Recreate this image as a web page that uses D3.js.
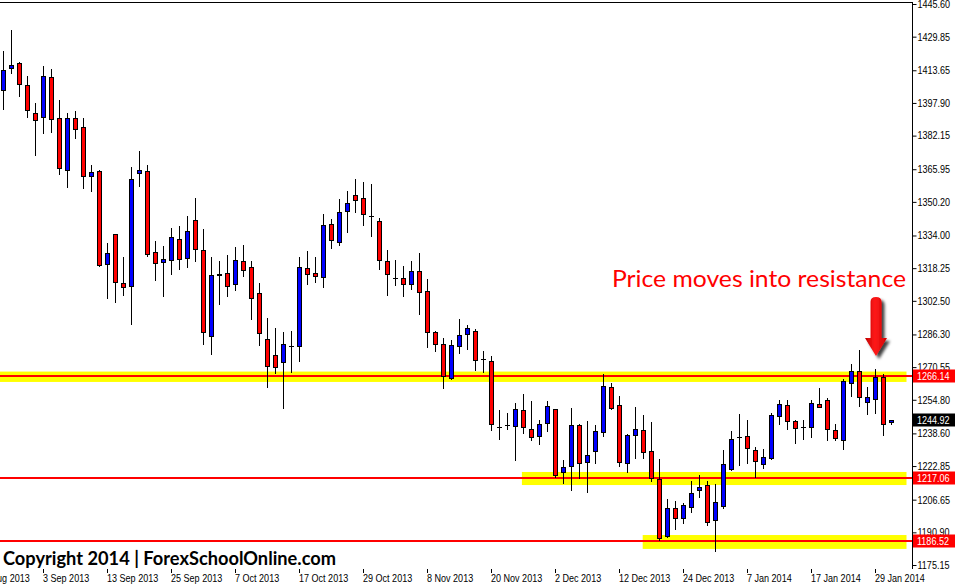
<!DOCTYPE html>
<html><head><meta charset="utf-8">
<script src="https://cdn.jsdelivr.net/npm/d3@7"></script>
<style>body{margin:0;background:#fff;overflow:hidden}svg{display:block}</style>
</head><body>
<svg id="chart" width="955" height="586"></svg>
<script>
// ---- data (daily candles, index 0 = 27 Aug 2013 ... 111 = 31 Jan 2014) ----
const opens = [1404.00,1414.89,1417.16,1406.55,1392.91,1390.98,1410.26,1390.50,1365.43,1390.50,
1386.16,1362.83,1364.95,1320.11,1334.58,1310.95,1309.51,1363.98,1364.95,1325.90,
1321.08,1322.33,1332.17,1323.01,1341.33,1326.86,1285.69,1315.29,1315.77,1310.76,
1321.56,1318.67,1306.13,1283.96,1276.24,1272.87,1280.58,1280.87,1318.18,1315.77,
1314.14,1339.40,1331.01,1345.95,1353.38,1351.93,1343.54,1340.84,1321.56,1313.36,
1313.36,1310.47,1316.74,1307.10,1287.33,1281.55,1265.15,1280.49,1286.37,1287.81,
1274.46,1273.35,1241.53,1242.50,1242.02,1249.73,1240.57,1237.19,1243.46,1250.21,
1219.84,1222.73,1242.50,1224.95,1229.96,1239.12,1260.82,1252.14,1224.18,1237.68,
1240.09,1229.96,1216.46,1188.99,1202.48,1197.66,1202.96,1211.16,1213.57,1196.70,
1203.45,1221.29,1236.86,1237.19,1230.45,1223.84,1226.88,1246.84,1252.14,1244.43,
1241.53,1241.53,1252.62,1254.55,1240.09,1235.27,1262.75,1268.53,1253.59,1255.03,
1265.64,1243.94];
const highs = [1422.94,1433.07,1417.78,1410.89,1397.87,1415.71,1414.27,1399.32,1392.91,1394.02,
1390.64,1367.99,1365.43,1330.38,1334.80,1323.63,1367.02,1374.59,1367.99,1331.25,
1328.94,1337.61,1338.58,1343.40,1352.08,1337.13,1323.63,1321.70,1324.60,1328.45,
1329.42,1321.70,1311.10,1294.23,1289.40,1287.48,1287.96,1323.63,1326.53,1323.49,
1344.36,1341.95,1351.59,1355.31,1361.24,1359.64,1358.83,1342.29,1327.01,1322.19,
1319.15,1321.70,1325.56,1312.88,1287.81,1284.44,1283.47,1293.74,1290.85,1288.92,
1278.32,1275.91,1249.87,1248.43,1253.25,1257.59,1254.21,1244.91,1254.21,1250.36,
1225.62,1250.84,1242.98,1244.57,1242.50,1266.99,1262.75,1256.48,1238.16,1251.18,
1247.32,1243.94,1226.11,1206.82,1205.86,1204.89,1215.50,1218.39,1215.50,1214.05,
1230.45,1239.75,1247.94,1244.91,1231.89,1231.07,1248.28,1254.55,1254.55,1244.91,
1244.91,1254.55,1260.33,1255.51,1242.98,1264.67,1272.05,1278.65,1260.82,1269.49,
1267.08,1244.92];
const lows = [1394.84,1412.48,1401.39,1391.27,1372.95,1383.56,1384.04,1363.79,1357.52,1381.15,
1357.04,1355.60,1319.30,1304.01,1302.08,1305.46,1291.19,1358.01,1323.97,1312.69,
1304.98,1315.58,1317.99,1318.96,1321.85,1281.84,1277.01,1301.12,1304.98,1307.87,
1314.62,1293.89,1281.35,1261.11,1267.85,1250.98,1268.34,1273.64,1310.76,1311.73,
1309.32,1328.12,1329.56,1335.83,1345.47,1339.20,1333.90,1317.99,1305.46,1310.28,
1304.98,1308.35,1296.30,1280.39,1278.46,1260.62,1264.82,1277.50,1279.28,1269.16,
1268.19,1240.23,1236.04,1240.57,1225.91,1238.93,1235.55,1233.63,1239.90,1217.43,
1214.53,1211.16,1216.95,1210.49,1224.47,1237.19,1250.36,1222.88,1219.84,1226.88,
1226.88,1215.50,1187.06,1188.50,1192.36,1195.54,1200.55,1208.08,1194.29,1181.75,
1202.77,1220.80,1223.50,1224.18,1217.72,1221.91,1226.40,1242.98,1240.57,1233.82,
1235.75,1237.00,1251.08,1235.27,1235.27,1230.93,1256.48,1251.66,1247.80,1248.28,
1237.68,1242.98];
const closes = [1413.64,1416.05,1406.89,1394.36,1389.53,1410.75,1390.02,1366.39,1390.50,1385.20,
1362.54,1364.47,1319.63,1325.42,1311.44,1309.02,1361.09,1365.43,1324.93,1320.98,
1322.52,1333.13,1322.52,1336.02,1327.34,1287.33,1314.81,1315.19,1309.80,1322.04,
1317.22,1304.01,1286.85,1271.23,1270.75,1281.55,1280.68,1318.67,1315.29,1314.33,
1338.91,1331.97,1345.18,1349.52,1350.97,1344.22,1343.44,1322.04,1315.29,1313.46,
1310.47,1316.74,1306.62,1287.62,1281.55,1266.41,1281.06,1285.88,1289.26,1273.83,
1274.36,1243.27,1241.63,1242.60,1250.21,1241.53,1236.71,1242.98,1251.66,1218.39,
1222.25,1242.50,1224.18,1228.03,1239.60,1261.30,1250.70,1224.66,1237.68,1240.57,
1229.48,1216.95,1188.02,1202.48,1197.66,1203.93,1209.71,1212.61,1195.73,1205.38,
1223.70,1235.75,1236.76,1231.41,1225.14,1227.07,1247.32,1252.62,1244.43,1241.05,
1241.63,1253.10,1251.18,1240.57,1236.23,1263.71,1268.53,1256.00,1256.00,1265.93,
1242.98,1244.92];

const yTicks = [1445.60,1429.85,1413.65,1397.90,1382.15,1365.95,1350.20,1334.00,1318.25,
1302.50,1286.30,1270.55,1254.80,1238.60,1222.85,1206.65,1190.90,1175.15];
const xTickLabels = ["22 Aug 2013","3 Sep 2013","13 Sep 2013","25 Sep 2013","7 Oct 2013",
"17 Oct 2013","29 Oct 2013","8 Nov 2013","20 Nov 2013","2 Dec 2013","12 Dec 2013",
"24 Dec 2013","7 Jan 2014","17 Jan 2014","29 Jan 2014"];
const xTickIndex = [-3,5,13,21,29,37,45,53,61,69,77,85,93,101,109];

const levels = [1266.14, 1217.06, 1186.52];
const zoneLow = [1263.4, 1213.7, 1182.9];
const zoneHigh = [1268.4, 1220.0, 1189.6];
const zoneStart = [-1, 64.8, 79.9];
const lastPrice = 1244.92;
const annotation = "Price moves into resistance";
const copyright = "Copyright 2014 | ForexSchoolOnline.com";

// ---- layout ----
const W = 955, H = 586, plotR = 912, plotT = 2, plotB = 569;
const svg = d3.select("#chart");
const x = d3.scaleLinear().domain([0, 111]).range([3.5, 891.5]);
const y = d3.scaleLinear().domain([1175.15, 1445.60]).range([565, 4]);
const zoneEnd = 113;
const axisFont = "Liberation Sans, Arial, sans-serif";
const squeeze = sel => sel.each(function(){
  const w = this.getComputedTextLength();
  d3.select(this).attr("textLength", w*0.86).attr("lengthAdjust","spacingAndGlyphs");
});

const defs = svg.append("defs");
const f = defs.append("filter").attr("id","sh").attr("x","-50%").attr("y","-50%").attr("width","200%").attr("height","200%");
f.append("feDropShadow").attr("dx",3).attr("dy",3).attr("stdDeviation",1.8).attr("flood-color","#000").attr("flood-opacity",0.75);
const g1 = defs.append("linearGradient").attr("id","ag").attr("x1",0).attr("x2",1).attr("y1",0).attr("y2",0);
g1.append("stop").attr("offset","0%").attr("stop-color","#c00000");
g1.append("stop").attr("offset","45%").attr("stop-color","#ff1a1a");
g1.append("stop").attr("offset","100%").attr("stop-color","#d00000");

// zones
svg.append("g").selectAll("rect").data(levels).join("rect")
  .attr("x",(d,i)=> Math.max(0, x(zoneStart[i]) ))
  .attr("width",(d,i)=> x(zoneEnd) - Math.max(0, x(zoneStart[i])) - 1)
  .attr("y",(d,i)=> y(zoneHigh[i]))
  .attr("height",(d,i)=> y(zoneLow[i]) - y(zoneHigh[i]))
  .attr("fill","#ffff00");

// level lines
svg.append("g").selectAll("line").data(levels).join("line")
  .attr("x1",0).attr("x2",plotR)
  .attr("y1",d=>Math.round(y(d))).attr("y2",d=>Math.round(y(d)))
  .attr("stroke","#ff0000").attr("stroke-width",2);

// candles
const idx = d3.range(opens.length);
const cg = svg.append("g");
cg.selectAll("line.wick").data(idx).join("line").attr("class","wick")
  .attr("x1",i=>Math.floor(x(i))+0.5).attr("x2",i=>Math.floor(x(i))+0.5)
  .attr("y1",i=>Math.round(y(highs[i]))).attr("y2",i=>Math.round(y(lows[i]))+1)
  .attr("stroke","#000").attr("stroke-width",1);
cg.selectAll("rect.body").data(idx.filter(i=>Math.abs(Math.round(y(opens[i]))-Math.round(y(closes[i])))>=1)).join("rect").attr("class","body")
  .attr("x",i=>Math.floor(x(i))-1.5).attr("width",4)
  .attr("y",i=>Math.round(y(Math.max(opens[i],closes[i])))+0.5)
  .attr("height",i=>Math.round(y(Math.min(opens[i],closes[i])))-Math.round(y(Math.max(opens[i],closes[i]))))
  .attr("fill",i=>closes[i]>opens[i]?"#0000ff":"#ff0000")
  .attr("stroke","#000").attr("stroke-width",1);
cg.selectAll("line.doji").data(idx.filter(i=>Math.abs(Math.round(y(opens[i]))-Math.round(y(closes[i])))<1)).join("line").attr("class","doji")
  .attr("x1",i=>Math.floor(x(i))-2).attr("x2",i=>Math.floor(x(i))+3)
  .attr("y1",i=>Math.round(y(closes[i]))+0.5).attr("y2",i=>Math.round(y(closes[i]))+0.5)
  .attr("stroke","#000").attr("stroke-width",1);

// frame
svg.append("line").attr("x1",0).attr("x2",plotR+0.5).attr("y1",plotT+0.5).attr("y2",plotT+0.5).attr("stroke","#000");
svg.append("line").attr("x1",plotR+0.5).attr("x2",plotR+0.5).attr("y1",plotT).attr("y2",plotB).attr("stroke","#000");

// y axis
const yAxis = d3.axisRight(y).tickValues(yTicks).tickSize(4).tickSizeOuter(0).tickPadding(1).tickFormat(d3.format(".2f"));
const ya = svg.append("g").attr("transform",`translate(${plotR+0.5},0)`).call(yAxis);
ya.select(".domain").remove();
ya.selectAll("line").attr("stroke","#000");
ya.selectAll("text").attr("font-family",axisFont).attr("font-size","10.5px").attr("fill","#000").call(squeeze);

// x axis
const xAxis = d3.axisBottom(x).tickValues(xTickIndex).tickSize(4).tickSizeOuter(0)
  .tickFormat((d,i)=>xTickLabels[i]);
const xa = svg.append("g").attr("transform",`translate(0,${plotB})`).call(xAxis);
xa.select(".domain").remove();
xa.selectAll(".tick line").attr("stroke","#000").attr("transform","translate(-0.5,0)");
xa.selectAll("text").attr("font-family",axisFont).attr("font-size","10.5px")
  .attr("text-anchor","start").attr("dx","-1").attr("dy",0).attr("y",13).attr("fill","#000").call(squeeze);

// price tags
const tags = levels.map(v=>({v, bg:"#ff0000"})).concat([{v:lastPrice,bg:"#000"}]);
const tg = svg.append("g").selectAll("g").data(tags).join("g");
tg.append("rect").attr("x",plotR+1).attr("width",W-plotR-1)
  .attr("y",d=>Math.round(y(d.v))-6.5).attr("height",13).attr("fill",d=>d.bg);
tg.append("text").attr("x",plotR+5).attr("y",d=>Math.round(y(d.v))).attr("dy","0.35em")
  .attr("font-family",axisFont).attr("font-size","10.5px").attr("fill","#fff")
  .text(d=>d3.format(".2f")(d.v)).call(squeeze);

// annotation text
svg.append("text").attr("x",612).attr("y",287).attr("fill","#ff0000")
  .attr("font-family","Lato, 'Open Sans', sans-serif").attr("font-size","24px")
  .attr("textLength",294).attr("lengthAdjust","spacingAndGlyphs").text(annotation);

// arrow
const ax = 876;
svg.append("path").attr("filter","url(#sh)").attr("fill","url(#ag)")
  .attr("d",`M${ax-5.5},${302} Q${ax-5.5},${297} ${ax},${297} Q${ax+5.5},${297} ${ax+5.5},${302} L${ax+5.5},${338} L${ax+11},${338} L${ax},${356} L${ax-11},${338} L${ax-5.5},${338} Z`);

// copyright
svg.append("text").attr("x",3).attr("y",564.5).attr("fill","#000")
  .attr("font-family","Lato, 'Open Sans', sans-serif").attr("font-weight","bold").attr("font-size","18px")
  .attr("textLength",333).attr("lengthAdjust","spacingAndGlyphs").text(copyright);
</script>
</body></html>
